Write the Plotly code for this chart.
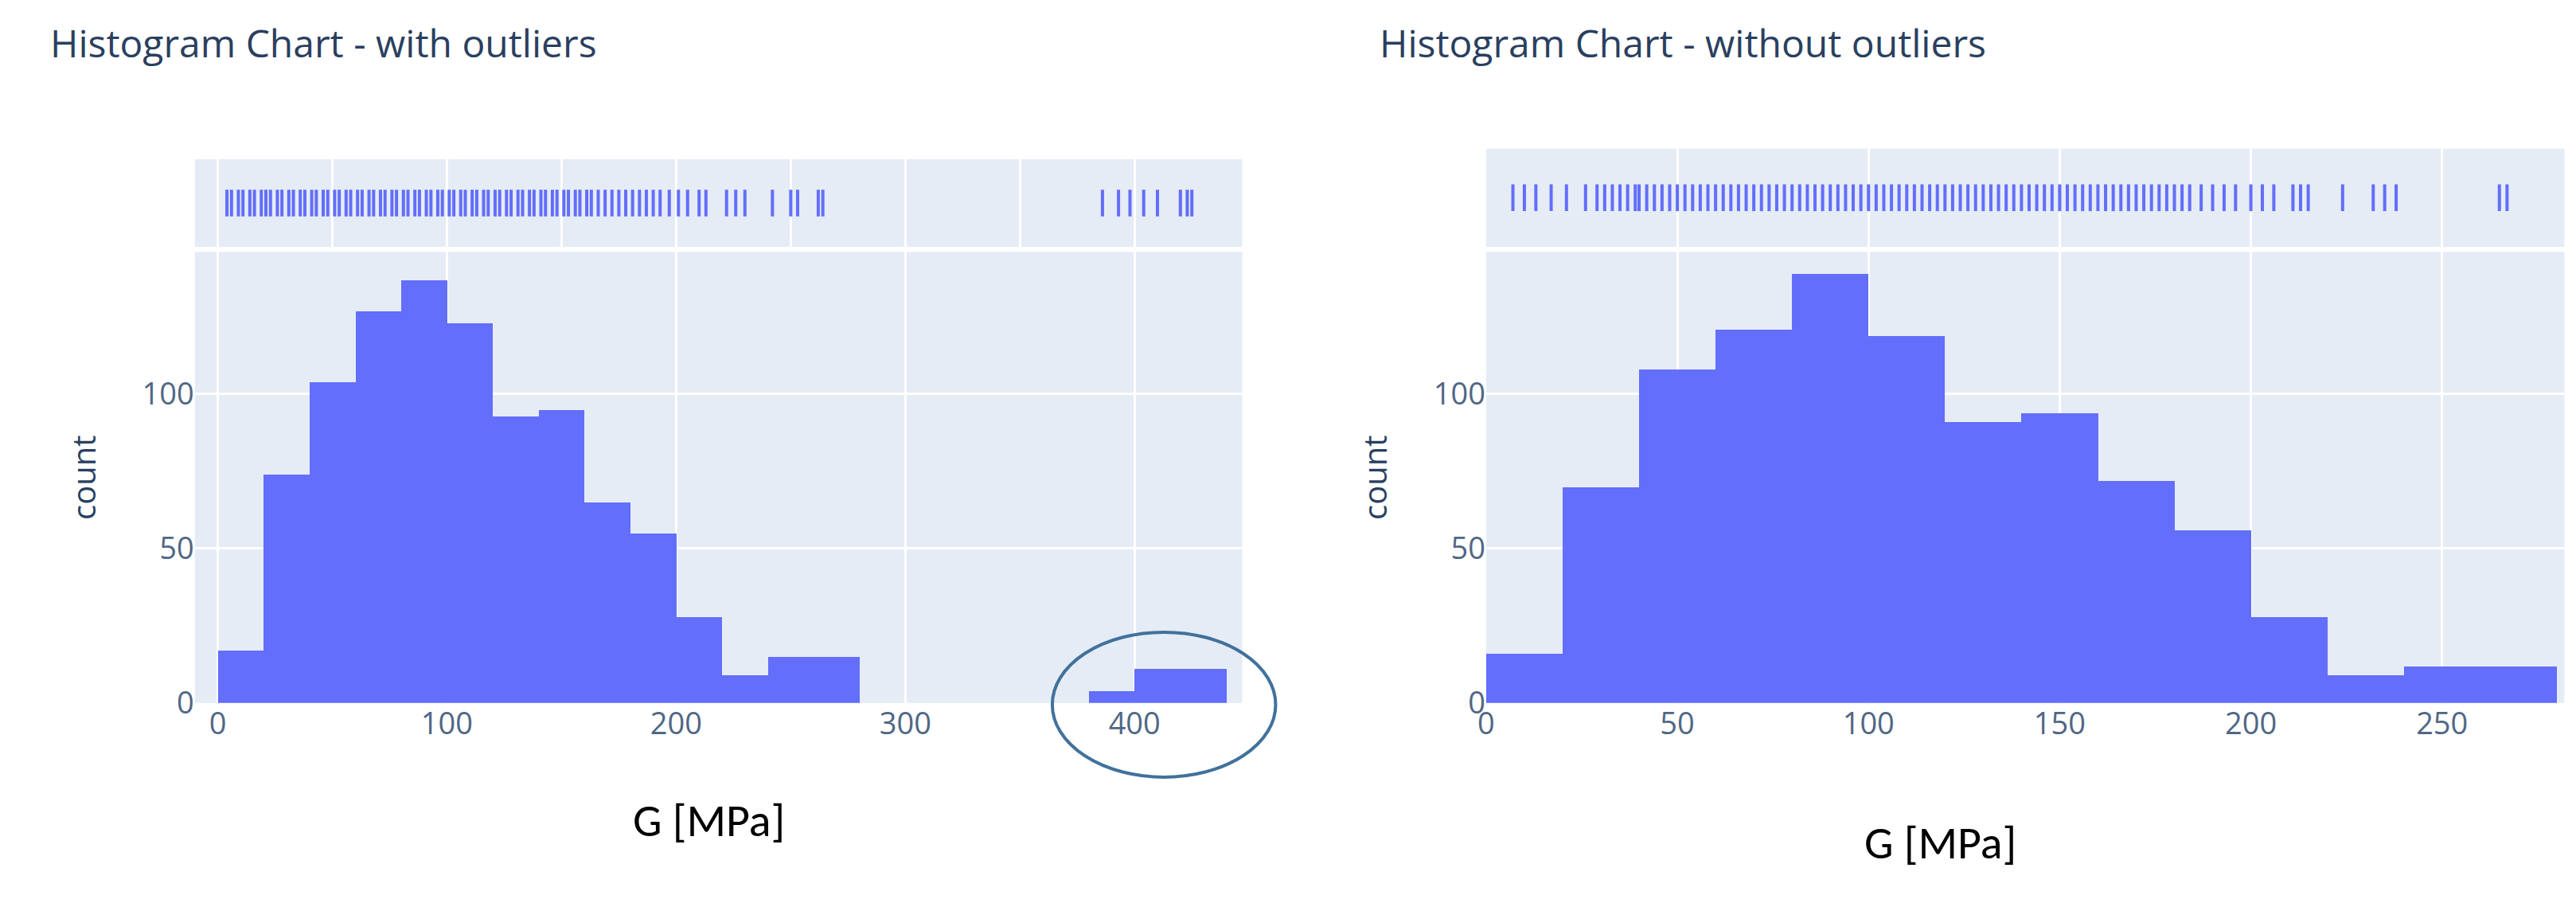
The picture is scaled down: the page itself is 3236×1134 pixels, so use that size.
import plotly.graph_objects as go

# histogram bins (20 MPa wide), counts
left_starts = [0, 20, 40, 60, 80, 100, 120, 140, 160, 180, 200, 220, 240, 260, 380, 400, 420]
left_counts = [17, 74, 104, 127, 137, 123, 93, 95, 65, 55, 28, 9, 15, 15, 4, 11, 11]
right_starts = [0, 20, 40, 60, 80, 100, 120, 140, 160, 180, 200, 220, 240, 260]
right_counts = [16, 70, 108, 121, 139, 119, 91, 94, 72, 56, 28, 9, 12, 12]

# rug positions (approximate)
left_rug = [4, 6, 9, 11, 14, 16, 19, 21, 23, 26, 28, 31, 33, 36, 38, 41, 43, 46, 48, 51, 53, 56,
            58, 61, 63, 66, 68, 71, 73, 76, 78, 81, 83, 86, 88, 91, 93, 96, 98, 101, 103, 106,
            108, 111, 113, 116, 118, 121, 123, 126, 128, 131, 133, 136, 138, 141, 143, 146, 148,
            151, 153, 156, 158, 161, 163, 166, 169, 172, 175, 178, 181, 184, 187, 190, 193, 197,
            201, 205, 210, 213, 222, 226, 230, 242, 250, 253, 262, 264,
            386, 393, 398, 404, 410, 420, 423, 425]
right_rug = [7, 10, 13, 17, 21, 26, 29, 31, 33, 35, 37, 39, 40, 42, 44, 46, 48, 50, 52, 54, 56, 58, 60,
             62, 64, 66, 68, 70, 72, 74, 76, 78, 80, 82, 84, 86, 88, 90, 92, 94, 96, 98, 100, 102,
             104, 106, 108, 110, 112, 114, 116, 118, 120, 122, 124, 126, 128, 130, 132, 134, 136,
             138, 140, 142, 144, 146, 148, 150, 152, 154, 156, 158, 160, 162, 164, 166, 168, 170,
             172, 174, 176, 178, 180, 182, 184, 187, 190, 193, 196, 200, 203, 206, 211, 213, 215,
             224, 232, 235, 238, 265, 267]

BLUE = "#636efa"
rug_marker = dict(symbol="line-ns-open", size=24, color=BLUE, line=dict(width=4, color=BLUE))
fig = go.Figure()
fig.add_trace(go.Bar(x=[s + 10 for s in left_starts], y=left_counts, width=20,
                     marker=dict(color=BLUE, line=dict(width=0)), xaxis="x", yaxis="y"))
fig.add_trace(go.Scatter(x=left_rug, y=["G"] * len(left_rug), mode="markers",
                         marker=rug_marker, xaxis="x2", yaxis="y2"))
fig.add_trace(go.Bar(x=[s + 10 for s in right_starts], y=right_counts, width=20,
                     marker=dict(color=BLUE, line=dict(width=0)), xaxis="x3", yaxis="y3"))
fig.add_trace(go.Scatter(x=right_rug, y=["G"] * len(right_rug), mode="markers",
                         marker=rug_marker, xaxis="x4", yaxis="y4"))

tick = dict(size=38, color="#506784")
grid = dict(showgrid=True, gridcolor="white", gridwidth=3, zeroline=False, tickfont=tick)
ytitle = dict(text="count", font=dict(size=40, color="#2a3f5f"), standoff=45)
fig.update_layout(
    width=3236, height=1134, showlegend=False, bargap=0,
    paper_bgcolor="white", plot_bgcolor="#e5ecf6",
    font=dict(family="Open Sans, Arial", color="#2a3f5f"),
    margin=dict(l=0, r=0, t=0, b=0),
    xaxis=dict(domain=[0.07, 0.478], range=[-10, 447], dtick=100, anchor="y", **grid),
    yaxis=dict(domain=[0.212, 0.722], range=[0, 146], anchor="x", tickvals=[0, 50, 100],
               title=ytitle, **grid),
    xaxis2=dict(domain=[0.07, 0.478], matches="x", anchor="y2", showticklabels=False,
                showgrid=True, gridcolor="white", gridwidth=3, zeroline=False),
    yaxis2=dict(domain=[0.728, 0.827], anchor="x2", showticklabels=False, showgrid=False),
    xaxis3=dict(domain=[0.573, 0.993], range=[0, 282], anchor="y3", **grid),
    yaxis3=dict(domain=[0.212, 0.722], range=[0, 146], anchor="x3", tickvals=[0, 50, 100],
                title=ytitle, **grid),
    xaxis4=dict(domain=[0.573, 0.993], matches="x3", anchor="y4", showticklabels=False,
                showgrid=True, gridcolor="white", gridwidth=3, zeroline=False),
    yaxis4=dict(domain=[0.728, 0.839], anchor="x4", showticklabels=False, showgrid=False),
)

fig.add_annotation(text="Histogram Chart - with outliers", xref="paper", yref="paper",
                   x=0.013, y=0.99, xanchor="left", yanchor="top", showarrow=False,
                   font=dict(size=48, color="#2a3f5f"))
fig.add_annotation(text="Histogram Chart - without outliers", xref="paper", yref="paper",
                   x=0.531, y=0.99, xanchor="left", yanchor="top", showarrow=False,
                   font=dict(size=48, color="#2a3f5f"))
fig.add_annotation(text="G [MPa]", xref="paper", yref="paper", x=0.24, y=0.045,
                   showarrow=False, font=dict(size=58, color="black", family="Carlito, Liberation Sans"))
fig.add_annotation(text="G [MPa]", xref="paper", yref="paper", x=0.78, y=0.02,
                   showarrow=False, font=dict(size=58, color="black", family="Carlito, Liberation Sans"))
fig.add_shape(type="circle", xref="paper", yref="paper", x0=0.404, x1=0.491, y0=0.128, y1=0.292,
              line=dict(color="#41719c", width=4))

fig.write_html("out.html")
